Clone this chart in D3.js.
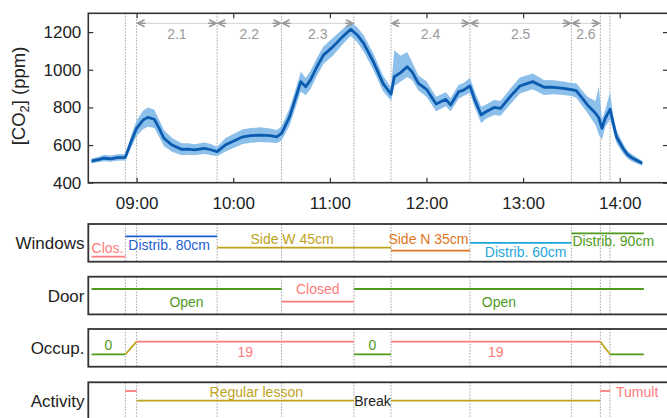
<!DOCTYPE html>
<html lang="en">
<head>
  <meta charset="UTF-8">
  <title>CO2 classroom</title>
  <script src="https://cdn.jsdelivr.net/npm/d3@7"></script>
  <style>
    body { margin: 0; background: #fff; }
    text { font-family: "Liberation Sans", Arial, sans-serif; }
  </style>
</head>
<body>
<svg></svg>
<script>
  // CO2 series
  const co2Time = ["08:32","08:36","08:40","08:44","08:48","08:53","08:57","09:00","09:04","09:07","09:11","09:14","09:17","09:22","09:28","09:32","09:36","09:42","09:46","09:50","09:55","10:00","10:06","10:11","10:17","10:23","10:27","10:30","10:35","10:39","10:42","10:45","10:48","10:52","10:56","11:02","11:08","11:13","11:17","11:21","11:27","11:33","11:38","11:40","11:44","11:48","11:51","11:55","12:00","12:06","12:12","12:15","12:20","12:23","12:27","12:30","12:34","12:37","12:42","12:46","12:52","12:58","13:06","13:13","13:19","13:25","13:30","13:33","13:40","13:45","13:47","13:49","13:51","13:54","13:56","13:58","14:02","14:05","14:08","14:14"]
  const co2Mean = [515,522,530,527,533,535,627,689,733,747,737,689,636,600,577,578,574,583,575,565,600,620,644,650,653,650,644,662,750,857,937,910,946,1016,1078,1123,1176,1215,1185,1140,1043,928,870,963,985,1016,990,928,896,818,843,813,883,892,914,840,760,777,800,795,857,914,937,907,907,901,895,889,813,769,745,689,742,790,715,644,583,548,530,503]
  const co2Low = [503,508,514,511,516,518,594,648,684,697,690,644,594,564,546,548,546,552,547,540,564,584,606,612,616,614,610,624,704,808,884,864,898,968,1030,1076,1136,1180,1146,1096,1000,886,836,912,938,962,946,890,856,780,806,780,846,860,876,800,716,740,760,756,816,874,896,866,870,866,860,851,770,706,655,628,696,736,676,611,556,527,511,490]
  const co2High = [528,537,548,544,551,553,661,730,782,800,788,735,680,638,610,609,604,614,605,591,636,659,684,690,694,688,680,700,796,904,989,956,994,1064,1124,1170,1216,1256,1226,1184,1088,970,906,1104,1074,1094,1044,970,939,856,880,850,920,930,956,884,804,816,840,834,899,959,980,946,944,938,930,928,856,834,910,739,786,879,756,679,609,569,549,516]

  const yTicks = [400, 600, 800, 1000, 1200]
  const xTicks = ["09:00", "10:00", "11:00", "12:00", "13:00", "14:00"]
  const eventTimes = ["08:53", "09:00", "09:50", "10:30", "11:15", "11:38", "12:27", "13:30", "13:48", "13:54"]
  const phases = [["2.1","09:00","09:50"], ["2.2","09:50","10:30"], ["2.3","10:30","11:15"],
                  ["2.4","11:38","12:27"], ["2.5","12:27","13:30"], ["2.6","13:30","13:48"]]

  // windows: opening in cm (0 = closed)
  const windowSegs = [
    {from: "08:32", to: "08:53", value: 0,  label: "Clos.",         color: "pink"},
    {from: "08:53", to: "09:50", value: 80, label: "Distrib. 80cm", color: "blue"},
    {from: "09:50", to: "11:38", value: 45, label: "Side W 45cm",   color: "olive"},
    {from: "11:38", to: "12:27", value: 35, label: "Side N 35cm",   color: "orange"},
    {from: "12:27", to: "13:30", value: 60, label: "Distrib. 60cm", color: "cyan"},
    {from: "13:30", to: "14:15", value: 90, label: "Distrib. 90cm", color: "green"}
  ]
  const doorSegs = [
    {from: "08:32", to: "10:30", value: 1, label: "Open",   color: "green"},
    {from: "10:30", to: "11:15", value: 0, label: "Closed", color: "pink"},
    {from: "11:15", to: "14:15", value: 1, label: "Open",   color: "green"}
  ]
  const occSegs = [
    {from: "08:32", to: "08:53", value: 0,  value2: 0,  label: "0",  color: "green"},
    {from: "08:53", to: "09:00", value: 0,  value2: 19, label: "",   color: "olive"},
    {from: "09:00", to: "11:15", value: 19, value2: 19, label: "19", color: "pink"},
    {from: "11:15", to: "11:38", value: 0,  value2: 0,  label: "0",  color: "green"},
    {from: "11:38", to: "13:48", value: 19, value2: 19, label: "19", color: "pink"},
    {from: "13:48", to: "13:54", value: 19, value2: 0,  label: "",   color: "olive"},
    {from: "13:54", to: "14:15", value: 0,  value2: 0,  label: "",   color: "green"}
  ]
  // activity: 2 = tumult, 1 = lesson
  const actSegs = [
    {from: "08:53", to: "09:00", value: 2, label: "",               color: "pink"},
    {from: "09:00", to: "11:15", value: 1, label: "Regular lesson", color: "olive"},
    {from: "11:15", to: "11:38", value: null, label: "Break",       color: "black"},
    {from: "11:38", to: "13:48", value: 1, label: "",               color: "olive"},
    {from: "13:48", to: "13:54", value: 2, label: "Tumult",         color: "pink"}
  ]

  const palette = {pink: "#ff7b7b", blue: "#1f5fd0", olive: "#bea31c", orange: "#e0761e",
                   cyan: "#1ea6d9", green: "#4f9a1c", black: "#222"}

  // label placement: [dx, dy, anchor, ref] ref: s = start, m = middle, e = end
  const labelPos = {
    "Clos.": [0, -3.5, "start", "s"], "Distrib. 80cm": [3, 14, "start", "s"],
    "Side W 45cm": [-12, -4, "middle", "m"], "Side N 35cm": [-2, -7, "middle", "m"],
    "Distrib. 60cm": [5, 14, "middle", "m"], "Distrib. 90cm": [1, 12.7, "start", "s"],
    "Open": [0, 17.7, "middle", "m"], "Closed": [0, -7.7, "middle", "m"],
    "0": [0, -4.3, "middle", "m"], "19": [0, 15, "middle", "m"],
    "Regular lesson": [11, -4, "middle", "m"], "Break": [0, 0, "middle", "m"],
    "Tumult": [6, 5.7, "start", "e"]
  }

  const width = 667, height = 418
  const parse = d3.timeParse("%H:%M")
  const left = 88.3, right = 668

  const svg = d3.select("svg").attr("width", width).attr("height", height)

  const x = d3.scaleTime().domain([parse("08:30"), parse("14:30")]).range([left, right])
  const y = d3.scaleLinear().domain([400, 1300]).range([182.7, 13.3])

  const data = co2Time.map((t, i) => ({t: parse(t), v: co2Mean[i], lo: co2Low[i], hi: co2High[i]}))

  const plotTop = y.range()[1], plotBottom = y.range()[0]

  // dotted event lines
  const drawEvents = (g, y0, y1) => g.selectAll("line.ev").data(eventTimes).join("line")
      .attr("class", "ev")
      .attr("x1", d => x(parse(d))).attr("x2", d => x(parse(d)))
      .attr("y1", y0).attr("y2", y1)
      .attr("stroke", "#8a8a8a").attr("stroke-width", 0.8).attr("stroke-dasharray", "1.5,1.5")

  const main = svg.append("g")
  main.call(drawEvents, plotTop, plotBottom)

  main.append("path").datum(data)
      .attr("fill", "#8cbfe9")
      .attr("d", d3.area().x(d => x(d.t)).y0(d => y(d.lo)).y1(d => y(d.hi)))

  main.append("path").datum(data)
      .attr("fill", "none").attr("stroke", "#0b5cb0").attr("stroke-width", 2.8)
      .attr("stroke-linejoin", "round")
      .attr("d", d3.line().x(d => x(d.t)).y(d => y(d.v)))

  // phase arrows
  const ay = 23.3
  const ph = main.append("g").selectAll("g").data(phases).join("g")
  ph.append("line")
      .attr("x1", d => x(parse(d[1]))).attr("x2", d => x(parse(d[2])))
      .attr("y1", ay).attr("y2", ay)
      .attr("stroke", "#d3d3d3").attr("stroke-width", 1)
  ph.append("path")
      .attr("d", d => {
        const a = x(parse(d[1])), b = x(parse(d[2]))
        return `M${a + 8},${ay - 3.5}L${a + 1},${ay}L${a + 8},${ay + 3.5}M${a + 1},${ay}L${a + 9},${ay}` +
               `M${b - 8},${ay - 3.5}L${b - 1},${ay}L${b - 8},${ay + 3.5}M${b - 1},${ay}L${b - 9},${ay}`
      })
      .attr("fill", "none").attr("stroke", "#999").attr("stroke-width", 1.6)
  ph.append("text")
      .attr("x", d => (x(parse(d[1])) + x(parse(d[2]))) / 2)
      .attr("y", 39)
      .attr("text-anchor", "middle").attr("fill", "#9a9a9a").style("font-size", "14px")
      .text(d => d[0])

  // axes
  const axisStyle = g => {
    g.select(".domain").remove()
    g.selectAll(".tick line").attr("stroke", "#333").attr("stroke-width", 1.2)
    g.selectAll(".tick text").attr("fill", "#222").style("font-size", "17px")
        .style("font-family", "'Liberation Sans', Arial, sans-serif")
  }
  svg.append("g").attr("transform", `translate(${left},0)`)
      .call(d3.axisLeft(y).tickValues(yTicks).tickSize(-5).tickPadding(7).tickFormat(d3.format("d")))
      .call(axisStyle)
  svg.append("g").attr("transform", `translate(${right},0)`)
      .call(d3.axisRight(y).tickValues(yTicks).tickSize(-5).tickFormat(""))
      .call(axisStyle)
  svg.append("g").attr("transform", `translate(0,${plotBottom})`)
      .call(d3.axisBottom(x).tickValues(xTicks.map(parse)).tickSize(-5).tickPadding(14)
          .tickFormat(d3.timeFormat("%H:%M")))
      .call(axisStyle)
  svg.append("g").attr("transform", `translate(0,${plotTop})`)
      .call(d3.axisTop(x).tickValues(xTicks.map(parse)).tickSize(-5).tickFormat(""))
      .call(axisStyle)

  svg.append("rect")
      .attr("x", left).attr("y", plotTop).attr("width", right - left).attr("height", plotBottom - plotTop)
      .attr("fill", "none").attr("stroke", "#333").attr("stroke-width", 1.6)

  svg.append("text")
      .attr("transform", "translate(25,96) rotate(-90)")
      .attr("text-anchor", "middle").attr("fill", "#222").style("font-size", "18.5px")
      .call(t => {
        t.append("tspan").text("[CO")
        t.append("tspan").text("2").attr("baseline-shift", "-30%").style("font-size", "13px")
        t.append("tspan").text("] (ppm)")
      })

  // lower panels
  const panelH = 37.7
  const rows = [
    {name: "Windows", y0: 224, segs: windowSegs,
     scale: d3.scaleLinear().domain([0, 35, 90]).range([224 + panelH - 5, 224 + panelH - 11, 224 + panelH - 28.4])},
    {name: "Door", y0: 276.7, segs: doorSegs,
     scale: d3.scaleLinear().domain([0, 1]).range([276.7 + 25, 276.7 + 12.3])},
    {name: "Occup.", y0: 329, segs: occSegs,
     scale: d3.scaleLinear().domain([0, 19]).range([329 + 25.3, 329 + 12.7])},
    {name: "Activity", y0: 382.3, segs: actSegs,
     scale: d3.scaleLinear().domain([1, 2]).range([382.3 + 18.4, 382.3 + 8.7])}
  ]

  rows.forEach(r => {
    const g = svg.append("g")
    g.call(drawEvents, r.y0, r.y0 + panelH)

    const segs = r.segs
    const endVal = s => s.value2 !== undefined ? s.value2 : s.value
    g.selectAll("line.seg").data(segs.filter(s => s.value !== null)).join("line")
        .attr("class", "seg")
        .attr("x1", s => x(parse(s.from))).attr("x2", s => x(parse(s.to)))
        .attr("y1", s => r.scale(s.value))
        .attr("y2", s => r.scale(endVal(s)))
        .attr("stroke", s => palette[s.color]).attr("stroke-width", 1.8)

    g.selectAll("text.lab").data(segs.filter(s => s.label)).join("text")
        .attr("class", "lab")
        .each(function (s) {
          const p = labelPos[s.label]
          const a = x(parse(s.from)), b = x(parse(s.to))
          const rx = p[3] === "s" ? a : p[3] === "e" ? b : (a + b) / 2
          const ly = s.value === null ? r.scale(1) + 5.5 : r.scale(endVal(s))
          d3.select(this).attr("x", rx + p[0]).attr("y", ly + p[1]).attr("text-anchor", p[2])
        })
        .attr("fill", s => palette[s.color]).style("font-size", "14px")
        .text(s => s.label)

    g.append("rect")
        .attr("x", left).attr("y", r.y0).attr("width", right - left).attr("height", panelH)
        .attr("fill", "none").attr("stroke", "#333").attr("stroke-width", 1.8)

    g.append("text")
        .attr("x", 84.5).attr("y", r.y0 + panelH / 2 + 6)
        .attr("text-anchor", "end").attr("fill", "#222").style("font-size", "17px")
        .text(r.name)
  })
</script>
</body>
</html>
